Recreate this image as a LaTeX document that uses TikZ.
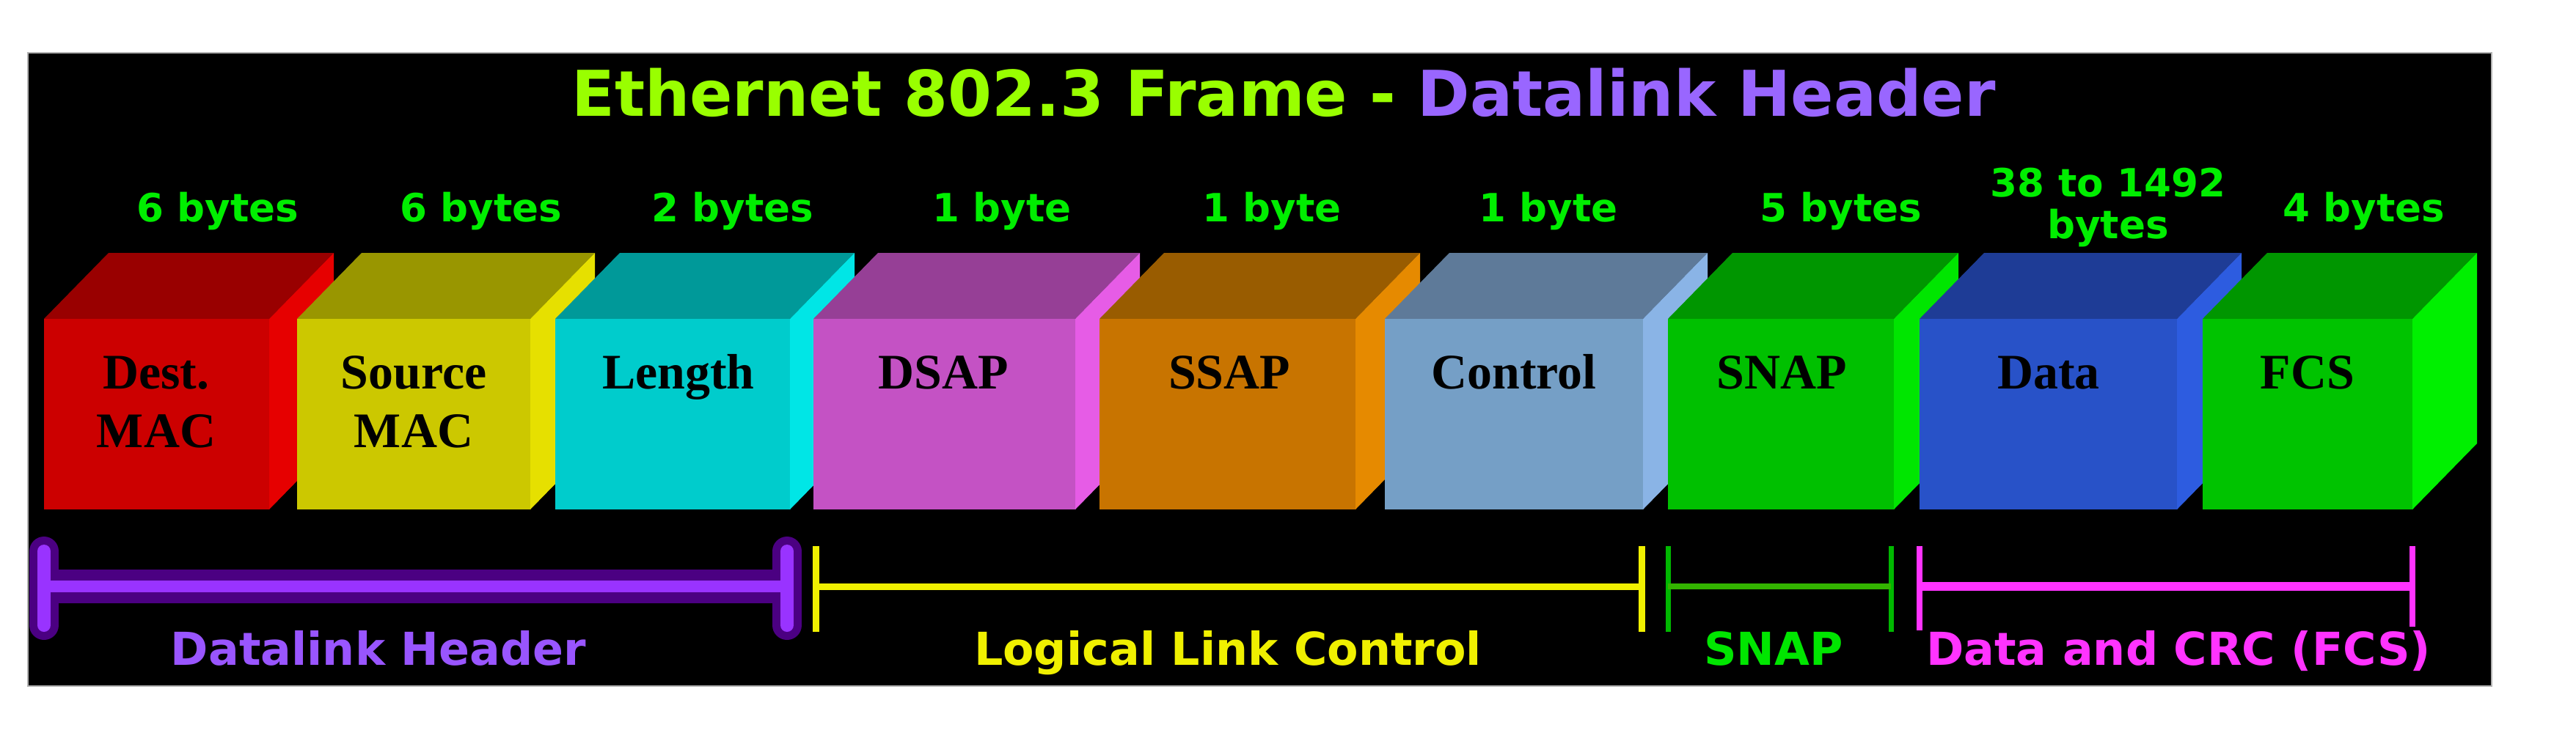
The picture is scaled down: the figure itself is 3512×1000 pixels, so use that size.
\documentclass[tikz,border=0pt]{standalone}
\usepackage{fontspec}
\setmainfont{Liberation Serif}
\newfontfamily\djv{DejaVu Sans}
\definecolor{redF}{HTML}{CC0000}\definecolor{redT}{HTML}{990000}\definecolor{redS}{HTML}{E60000}
\definecolor{yelF}{HTML}{CCC800}\definecolor{yelT}{HTML}{999600}\definecolor{yelS}{HTML}{E6E000}
\definecolor{cyaF}{HTML}{00CCCC}\definecolor{cyaT}{HTML}{009999}\definecolor{cyaS}{HTML}{00E6E6}
\definecolor{magF}{HTML}{C452C4}\definecolor{magT}{HTML}{963F96}\definecolor{magS}{HTML}{E65CE6}
\definecolor{oraF}{HTML}{C87400}\definecolor{oraT}{HTML}{995C00}\definecolor{oraS}{HTML}{E68A00}
\definecolor{conF}{HTML}{759FC6}\definecolor{conT}{HTML}{5E7A99}\definecolor{conS}{HTML}{8AB4E6}
\definecolor{snpF}{HTML}{00C000}\definecolor{snpT}{HTML}{009600}\definecolor{snpS}{HTML}{00E600}
\definecolor{datF}{HTML}{2852C8}\definecolor{datT}{HTML}{1E3C96}\definecolor{datS}{HTML}{2D5CE0}
\definecolor{fcsF}{HTML}{00C300}\definecolor{fcsT}{HTML}{009600}\definecolor{fcsS}{HTML}{00F000}
\definecolor{ttlgreen}{HTML}{99FF00}
\definecolor{ttlpurple}{HTML}{9966FF}
\definecolor{bytegreen}{HTML}{00EE00}
\definecolor{dlpurple}{HTML}{9955FF}
\definecolor{dldark}{HTML}{4B0082}
\definecolor{dlbright}{HTML}{9933FF}
\definecolor{llcyellow}{HTML}{F0F000}
\definecolor{snapgreen}{HTML}{00E600}
\definecolor{snapline}{HTML}{33B400}
\definecolor{crcmag}{HTML}{FF33FF}
\begin{document}
\begin{tikzpicture}[x=0.01cm,y=-0.01cm,
  ttl/.style={font=\djv\bfseries\fontsize{24.5pt}{29pt}\selectfont, anchor=base, inner sep=0, text=ttlgreen},
  bytelab/.style={font=\djv\bfseries\fontsize{15.1pt}{18pt}\selectfont, anchor=base, inner sep=0, text=bytegreen},
  boxlab/.style={font=\bfseries\fontsize{19.3pt}{23pt}\selectfont, anchor=base, inner sep=0, text=black},
  grplab/.style={font=\djv\bfseries\fontsize{17.6pt}{21pt}\selectfont, anchor=base, inner sep=0},
  frontface/.style={anchor=north west, inner sep=0, outer sep=0, minimum height=0.26cm*10},
  thinbracket/.style={line width=0.09cm}
]
\useasboundingbox (0,0) rectangle (3512,1000);
\fill[white] (0,0) rectangle (3512,1000);
\path[fill=black, draw=gray!60, line width=0.02cm] (38,72) rectangle (3397,936);

% title
\node[ttl] (title) at (1750,158) {Ethernet 802.3 Frame - {\color{ttlpurple}Datalink Header}};

% boxes
\foreach \n/\xl/\xr/\cf/\ct/\cs in {1/60/367/redF/redT/redS, 2/405/723/yelF/yelT/yelS, 3/757/1077/cyaF/cyaT/cyaS, 4/1109/1466/magF/magT/magS, 5/1499/1848/oraF/oraT/oraS, 6/1888/2240/conF/conT/conS, 7/2274/2582/snpF/snpT/snpS, 8/2617/2968/datF/datT/datS, 9/3003/3289/fcsF/fcsT/fcsS}{
  \fill[\ct] (\xl,435) -- (\xr,435) -- (\xr+88,345) -- (\xl+88,345) -- cycle;
  \fill[\cs] (\xr,435) -- (\xr+88,345) -- (\xr+88,605) -- (\xr,695) -- cycle;
  \fill[\cf] (\xl,435) rectangle (\xr,695);
  \coordinate (box\n) at ({(\xl+\xr)/2},565);
}

% box labels
\node[boxlab] (l1a) at (213,530) {Dest.};
\node[boxlab] (l1b) at (213,610) {MAC};
\node[boxlab] (l2a) at (564,530) {Source};
\node[boxlab] (l2b) at (564,610) {MAC};
\node[boxlab] (l3) at (925,530) {Length};
\node[boxlab] (l4) at (1286,530) {DSAP};
\node[boxlab] (l5) at (1676,530) {SSAP};
\node[boxlab] (l6) at (2064,530) {Control};
\node[boxlab] (l7) at (2429,530) {SNAP};
\node[boxlab] (l8) at (2793,530) {Data};
\node[boxlab] (l9) at (3146,530) {FCS};

% byte labels
\node[bytelab] (b1) at (297,302) {6 bytes};
\node[bytelab] (b2) at (656,302) {6 bytes};
\node[bytelab] (b3) at (999,302) {2 bytes};
\node[bytelab] (b4) at (1366,302) {1 byte};
\node[bytelab] (b5) at (1734,302) {1 byte};
\node[bytelab] (b6) at (2111,302) {1 byte};
\node[bytelab] (b7) at (2510,302) {5 bytes};
\node[bytelab] (b8a) at (2874,268) {38 to 1492};
\node[bytelab] (b8b) at (2874,325) {bytes};
\node[bytelab] (b9) at (3223,302) {4 bytes};

% Datalink header bracket (thick purple)
\coordinate (dhL) at (60,800);
\coordinate (dhR) at (1073,800);
\coordinate (dhLt) at (60,752);
\coordinate (dhLb) at (60,853);
\coordinate (dhRt) at (1073,752);
\coordinate (dhRb) at (1073,853);
\draw[dldark, line width=0.46cm] (dhL) -- (dhR);
\draw[dldark, line width=0.40cm, line cap=round] (dhLt) -- (dhLb) (dhRt) -- (dhRb);
\draw[dlbright, line width=0.16cm] (dhL) -- (dhR);
\draw[dlbright, line width=0.18cm, line cap=round] (dhLt) -- (dhLb) (dhRt) -- (dhRb);

% LLC bracket
\coordinate (llLt) at (1112,745); \coordinate (llLb) at (1112,862);
\coordinate (llRt) at (2238,745); \coordinate (llRb) at (2238,862);
\coordinate (llL) at (1112,800); \coordinate (llR) at (2238,800);
\draw[llcyellow, thinbracket] (llLt) -- (llLb) (llRt) -- (llRb) (llL) -- (llR);

% SNAP bracket
\coordinate (snLt) at (2274,745); \coordinate (snLb) at (2274,862);
\coordinate (snRt) at (2578,745); \coordinate (snRb) at (2578,862);
\coordinate (snL) at (2274,800); \coordinate (snR) at (2578,800);
\draw[snapgreen!80!black, line width=0.07cm] (snLt) -- (snLb) (snRt) -- (snRb);
\draw[snapline, line width=0.08cm] (snL) -- (snR);

% Data and CRC bracket
\coordinate (dcLt) at (2617,745); \coordinate (dcLb) at (2617,860);
\coordinate (dcRt) at (3289,745); \coordinate (dcRb) at (3289,855);
\coordinate (dcL) at (2617,800); \coordinate (dcR) at (3289,800);
\draw[crcmag, line width=0.08cm] (dcLt) -- (dcLb) (dcRt) -- (dcRb);
\draw[crcmag, line width=0.12cm] (dcL) -- (dcR);

% group labels
\node[grplab, text=dlpurple] (gdh) at (516,907) {Datalink Header};
\node[grplab, text=llcyellow] (gllc) at (1674,907) {Logical Link Control};
\node[grplab, text=snapgreen] (gsnap) at (2418,907) {SNAP};
\node[grplab, text=crcmag] (gcrc) at (2970,907) {Data and CRC (FCS)};
\end{tikzpicture}
\end{document}
